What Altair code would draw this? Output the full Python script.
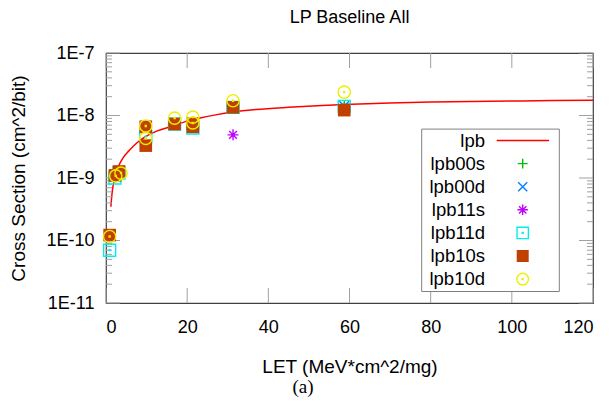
import altair as alt
import pandas as pd

# ---------------- data ----------------
fit_let = [1.2, 1.5, 1.9, 2.5, 3.2, 4.2, 5.6, 7.5, 9.7, 12.5, 16.0, 20.0, 23.2, 27.0,
           31.2, 37.0, 45.0, 52.0, 58.7, 70.0, 80.0, 90.0, 100.0, 110.0, 120.0]
fit_xs = [3.47e-10, 5.75e-10, 8.5e-10, 1.2e-9, 1.6e-9, 2.1e-9, 2.7e-9, 3.6e-9, 4.57e-9,
          5.62e-9, 6.68e-9, 8.13e-9, 9.12e-9, 1.023e-8, 1.135e-8, 1.245e-8, 1.35e-8,
          1.43e-8, 1.50e-8, 1.585e-8, 1.64e-8, 1.68e-8, 1.706e-8, 1.73e-8, 1.746e-8]

series_names = ["lpb00s", "lpb00d", "lpb11s", "lpb11d", "lpb10s", "lpb10d"]

lpb00s_let = [0.9, 2.2, 3.2, 9.8, 16.9, 21.4, 31.3, 58.7]
lpb00s_xs = [1.2e-10, 1.1e-9, 1.27e-9, 6.6e-9, 7.3e-9, 7.2e-9, 1.35e-8, 1.4e-8]
lpb00d_let = [0.9, 2.2, 3.3, 9.8, 16.9, 21.4, 31.3, 58.7]
lpb00d_xs = [1.2e-10, 1.1e-9, 1.32e-9, 6.8e-9, 7.3e-9, 7.0e-9, 1.35e-8, 1.42e-8]
lpb11s_let = [0.9, 2.2, 3.2, 9.8, 16.9, 21.4, 31.3, 58.7]
lpb11s_xs = [1.2e-10, 1.05e-9, 1.2e-9, 3.3e-9, 7.2e-9, 6.8e-9, 4.9e-9, 1.25e-8]
lpb11d_let = [0.9, 2.2, 3.2, 9.8, 16.9, 21.4, 31.3, 58.7]
lpb11d_xs = [7.0e-11, 1.0e-9, 1.2e-9, 4.6e-9, 7.3e-9, 6.3e-9, 1.35e-8, 1.4e-8]
lpb10s_let = [0.9, 2.2, 3.2, 9.8, 9.8, 16.9, 21.4, 21.4, 31.3, 58.7]
lpb10s_xs = [1.22e-10, 1.1e-9, 1.27e-9, 6.6e-9, 3.3e-9, 7.3e-9, 7.4e-9, 6.6e-9, 1.35e-8, 1.22e-8]
lpb10d_let = [0.9, 2.4, 3.7, 9.8, 9.8, 16.9, 21.4, 21.4, 31.3, 58.7]
lpb10d_xs = [1.16e-10, 1.08e-9, 1.2e-9, 6.8e-9, 4.3e-9, 9.1e-9, 9.4e-9, 7.6e-9, 1.72e-8, 2.37e-8]

x_tick_values = [0, 20, 40, 60, 80, 100, 120]
y_tick_values = [1e-11, 1e-10, 1e-9, 1e-8, 1e-7]
y_minor_mult = [2, 3, 4, 5, 6, 7, 8, 9]

chart_title = "LP Baseline All"
x_title = "LET (MeV*cm^2/mg)"
y_title = "Cross Section (cm^2/bit)"
caption = "(a)"

# ---------------- styling ----------------
FONT = "Liberation Sans"
W, H = 487, 250
Y_LO, Y_HI = 1e-11, 1e-7
x_scale = alt.Scale(domain=[0, 120], nice=False, zero=False)
y_scale = alt.Scale(type="log", domain=[Y_LO, Y_HI], nice=False)

series_data = {
    "lpb00s": (lpb00s_let, lpb00s_xs),
    "lpb00d": (lpb00d_let, lpb00d_xs),
    "lpb11s": (lpb11s_let, lpb11s_xs),
    "lpb11d": (lpb11d_let, lpb11d_xs),
    "lpb10s": (lpb10s_let, lpb10s_xs),
    "lpb10d": (lpb10d_let, lpb10d_xs),
}
DOT = "M-0.08,-0.08L0.08,-0.08L0.08,0.08L-0.08,0.08Z"
series_style = {
    "lpb00s": dict(color="#00c000", shape="M-1,0L1,0M0,-1L0,1", filled=False, size=110),
    "lpb00d": dict(color="#0080ff", shape="M-0.8,-0.8L0.8,0.8M0.8,-0.8L-0.8,0.8", filled=False, size=144),
    "lpb11s": dict(color="#c000ff",
                   shape="M-1,0L1,0M0,-1L0,1M-0.7,-0.7L0.7,0.7M0.7,-0.7L-0.7,0.7",
                   filled=False, size=121),
    "lpb11d": dict(color="#00eeee", shape="M-1,-1L1,-1L1,1L-1,1Z" + DOT, filled=False, size=144),
    "lpb10s": dict(color="#c04000", shape="square", filled=True, size=160),
    "lpb10d": dict(color="#eeee00", shape="M1,0A1,1,0,1,1,-1,0A1,1,0,1,1,1,0Z" + DOT,
                   filled=False, size=150),
}

x_axis = alt.Axis(values=x_tick_values, title=x_title, ticks=False, tickSize=0,
                  domain=False, grid=False, labelFontSize=18, labelPadding=15,
                  labelColor="black", titleColor="black", titleFontSize=19,
                  titleFontWeight="normal", titleBaseline="alphabetic", titleY=69,
                  titleX=W / 2, labelFont=FONT, titleFont=FONT)
y_axis = alt.Axis(values=y_tick_values, title=y_title, ticks=False,
                  tickSize=0, domain=False, grid=False, labelFontSize=18, labelPadding=12,
                  labelExpr="'1E' + round(log(datum.value) / LN10)",
                  labelColor="black", titleColor="black", titleFontSize=19,
                  titleFontWeight="normal", titleBaseline="alphabetic", titleAngle=270,
                  titleX=-82, titleY=H / 2, titleAlign="center", labelFont=FONT,
                  titleFont=FONT)

X = lambda f: alt.X(f, scale=x_scale, axis=x_axis)
Y = lambda f: alt.Y(f, scale=y_scale, axis=y_axis)

layers = []

# fit curve
fit_df = pd.DataFrame({"LET": fit_let, "XS": fit_xs})
layers.append(
    alt.Chart(fit_df).mark_line(color="#ff0000", strokeWidth=1.5, interpolate="monotone",
                                clip=True)
    .encode(x=X("LET:Q"), y=Y("XS:Q"))
)

# inward ticks (x ticks: vertical segments whose ends go through the log y scale)
TICK_C = "#a0a0a0"
XT_LEN = 15
decades = 4.0
frac = 10 ** (decades * XT_LEN / H)
xt_df = pd.DataFrame({
    "LET": [float(v) for v in x_tick_values] * 2,
    "Y0": [Y_LO] * len(x_tick_values) + [Y_HI] * len(x_tick_values),
    "Y1": [Y_LO * frac] * len(x_tick_values) + [Y_HI / frac] * len(x_tick_values),
})
layers.append(alt.Chart(xt_df).mark_rule(color=TICK_C, strokeWidth=1)
              .encode(x=X("LET:Q"), y=Y("Y0:Q"), y2="Y1:Q"))
yt_df = pd.DataFrame({"XS": y_tick_values})
ym_df = pd.DataFrame({"XS": [m * d for d in y_tick_values[:-1] for m in y_minor_mult]})
for df, ln in [(yt_df, 14), (ym_df, 6)]:
    for x0, x1 in [(0, ln), (W, W - ln)]:
        layers.append(alt.Chart(df).mark_rule(color=TICK_C, strokeWidth=1, orient="horizontal")
                      .encode(y=Y("XS:Q"), x=alt.value(x0), x2=alt.value(x1)))

# data points
for name in series_names:
    lets, xss = series_data[name]
    st = series_style[name]
    df = pd.DataFrame({"LET": lets, "XS": xss})
    if st["filled"]:
        mk = alt.Chart(df).mark_point(shape=st["shape"], filled=True, color=st["color"],
                                      size=st["size"], opacity=1, strokeWidth=0)
    else:
        mk = alt.Chart(df).mark_point(shape=st["shape"], filled=False, color=st["color"],
                                      size=st["size"], opacity=1, strokeWidth=1.4)
    layers.append(mk.encode(x=X("LET:Q"), y=Y("XS:Q")))

# legend (box, labels, samples)
box_df = pd.DataFrame({"k": [0]})
layers.append(alt.Chart(box_df).mark_rect(fill="white", stroke="#808080", strokeWidth=1).encode(
    x=alt.value(315.7), x2=alt.value(453.3), y=alt.value(76.1), y2=alt.value(238.5)))
ROW0, GAP, LAB_X, SYM_X = 87.5, 23.1, 379, 416.7
legend_names = ["lpb"] + series_names
for i, name in enumerate(legend_names):
    ry = ROW0 + i * GAP
    layers.append(alt.Chart(pd.DataFrame({"name": [name]})).mark_text(
        align="right", baseline="middle", fontSize=18.5, font=FONT, color="black").encode(
        text="name:N", x=alt.value(LAB_X), y=alt.value(ry)))
    if name == "lpb":
        layers.append(alt.Chart(box_df).mark_rule(color="#ff0000", strokeWidth=1.5).encode(
            x=alt.value(390.7), x2=alt.value(443), y=alt.value(ry)))
    else:
        st = series_style[name]
        if st["filled"]:
            mk = alt.Chart(box_df).mark_point(shape=st["shape"], filled=True, color=st["color"],
                                              size=st["size"] * 0.9, opacity=1, strokeWidth=0)
        else:
            mk = alt.Chart(box_df).mark_point(shape=st["shape"], filled=False, color=st["color"],
                                              size=st["size"] * 0.9, opacity=1, strokeWidth=1.4)
        layers.append(mk.encode(x=alt.value(SYM_X), y=alt.value(ry)))

# chart title and caption "(a)"
layers.append(alt.Chart(pd.DataFrame({"t": [chart_title]})).mark_text(
    align="center", baseline="alphabetic", fontSize=18, font=FONT, color="black").encode(
    text="t:N", x=alt.value(W / 2), y=alt.value(-30.5)))
layers.append(alt.Chart(pd.DataFrame({"cap": [caption]})).mark_text(
    align="center", baseline="middle", fontSize=19, font="Liberation Serif", color="black").encode(
    text="cap:N", x=alt.value(197), y=alt.value(333.5)))

chart = alt.layer(*layers).properties(
    width=W, height=H,
    autosize=alt.AutoSizeParams(type="none"),
    padding={"left": 106, "top": 53, "right": 19, "bottom": 98},
).configure_view(stroke="#404040", strokeWidth=1.2)

chart.save("out.html", embed_options={"renderer": "svg", "actions": False})
